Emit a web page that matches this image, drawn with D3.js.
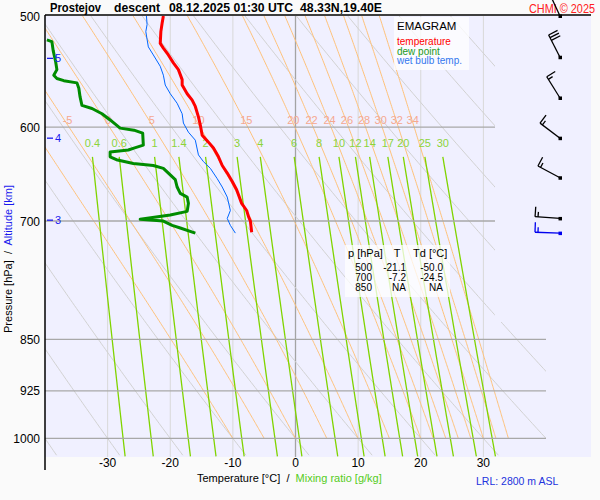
<!DOCTYPE html>
<html>
<head>
<meta charset="utf-8">
<script src="https://cdn.jsdelivr.net/npm/d3@7"></script>
<style>
  body { margin: 0; background: #fafafa; }
  svg { display: block; font-family: "Liberation Sans", Arial, sans-serif; }
</style>
</head>
<body>
<svg id="chart" width="600" height="500"></svg>
<script>
// sounding data: pressure [hPa] and temperature [°C]
var tempP = [500, 506, 513, 523, 527, 533, 540, 546, 555, 560, 568, 574, 580, 590, 598, 608, 615, 621, 630, 639, 647, 656, 665, 680, 688, 695, 700, 713];
var tempT = [-21.1, -21.3, -21.5, -21.6, -21.1, -20.3, -19.5, -18.7, -18.1, -18.1, -17.3, -16.5, -16.0, -15.5, -15.2, -14.9, -13.9, -13.1, -12.3, -11.7, -10.9, -10.1, -9.4, -8.6, -7.8, -7.5, -7.2, -7.0];

var dewP = [520, 521.5, 529, 539, 546, 551, 554, 556, 558, 563, 571, 579, 582, 587, 593, 601, 603, 606, 618, 621, 623, 625, 630, 633, 637, 639, 642, 649, 654, 662, 669, 673, 680, 689, 693, 698, 700, 705, 708, 714];
var dewT = [-39.7, -38.9, -38.7, -38.3, -38.1, -38.6, -38.1, -37.0, -34.9, -34.6, -34.4, -34.1, -32.5, -30.9, -29.6, -28.0, -25.8, -24.4, -24.3, -25.8, -26.7, -29.6, -29.6, -28.6, -25.9, -22.7, -21.1, -20.0, -19.2, -18.9, -18.4, -17.3, -17.1, -17.3, -20.0, -24.8, -21.1, -19.7, -18.4, -16.0];

var wetP = [500, 507, 513, 526, 533, 543, 551, 560, 568, 577, 587, 596, 605, 613, 628, 635, 642, 653, 662, 673, 688, 697, 705, 714];
var wetT = [-23.8, -23.7, -23.9, -23.5, -22.7, -21.6, -21.1, -20.8, -20.0, -18.9, -18.1, -17.9, -17.1, -16.0, -15.5, -14.7, -13.6, -12.5, -11.7, -10.9, -10.4, -10.9, -10.4, -9.6];

// wind barbs
var windP = [500, 535, 572, 611, 652, 697, 714];
var windDir = [335, 333, 328, 307, 298, 274, 272];
var windSpeed = [30, 30, 15, 15, 15, 15, 15];
var windColor = ["#000", "#000", "#000", "#000", "#000", "#000", "#0000ee"];

// altitude marks
var altKm = [5, 4, 3];
var altP = [536, 611, 699];

// diagram grid
var isobars = [600, 700, 850, 925, 1000];
var pressureTicks = [500, 600, 700, 850, 925, 1000];
var isotherms = [-30, -20, -10, 0, 10, 20, 30];
var dryAdiabats = [-50, -40, -30, -20, -10, 0, 10, 20, 30, 40, 50, 60, 70, 80, 90, 100, 110, 120];
var moistAdiabats = [-10, -5, 0, 5, 10, 15, 20, 22, 24, 26, 28, 30, 32, 34];
var mixingRatios = [0.4, 0.6, 1, 1.4, 2, 3, 4, 6, 8, 10, 12, 14, 17, 20, 25, 30];

// summary table
var tableP = ["500", "700", "850"];
var tableT = ["-21.1", "-7.2", "NA"];
var tableTd = ["-50.0", "-24.5", "NA"];

var svg = d3.select("#chart");
var x = d3.scaleLinear().domain([-40, 40]).range([45, 546]);
var y = d3.scaleLog().domain([500, 1031]).range([16, 457]);

var line = d3.line()
  .x(function (d) { return x(d.t); })
  .y(function (d) { return y(d.p); });

/*
  NAME: satVap
  DESCRIPTION: saturation vapour pressure over water [hPa] (Magnus)
*/
function satVap(tc) {
  return 6.112 * Math.exp((17.67 * tc) / (tc + 243.5));
} // end function satVap

/*
  NAME: moistCurve
  DESCRIPTION: pseudo-adiabat from 1000 hPa at given wet-bulb potential temperature
*/
function moistCurve(thw) {
  var pts = [];
  var p = 1000;
  var tk = thw + 273.15;
  var dp = -2;
  function dTdp(pp, t) {
    var es = satVap(t - 273.15);
    var rs = (0.622 * es) / (pp - es);
    return ((287.04 * t + 2.501e6 * rs) /
      (1005.7 + (2.501e6 * 2.501e6 * rs * 0.622) / (287.04 * t * t))) / pp;
  }
  pts.push({ p: p, t: tk - 273.15 });
  while (p > 500) {
    var k1 = dTdp(p, tk);
    var k2 = dTdp(p + dp / 2, tk + (k1 * dp) / 2);
    var k3 = dTdp(p + dp / 2, tk + (k2 * dp) / 2);
    var k4 = dTdp(p + dp, tk + k3 * dp);
    tk += (dp / 6) * (k1 + 2 * k2 + 2 * k3 + k4);
    p += dp;
    pts.push({ p: p, t: tk - 273.15 });
  }
  return pts;
} // end function moistCurve

function mixingTemp(w, p) {
  var e = (w * p) / (622 + w);
  var a = Math.log(e / 6.112);
  return (a * 243.5) / (17.67 - a);
}

function zipSeries(ps, ts) {
  return ps.map(function (d, i) { return { p: d, t: ts[i] }; });
}

// backgrounds
svg.append("rect").attr("x", 0).attr("y", 0).attr("width", 600).attr("height", 500).attr("fill", "#fafafa");
svg.append("rect").attr("x", 45).attr("y", 16).attr("width", 546).attr("height", 441).attr("fill", "#f0f0ff");

svg.append("clipPath").attr("id", "plotClip")
  .append("rect").attr("x", 45).attr("y", 16).attr("width", 501).attr("height", 441);

var grid = svg.append("g").attr("clip-path", "url(#plotClip)");

// isotherms
grid.selectAll(".isotherm")
  .data(isotherms)
  .enter()
  .append("line")
  .attr("x1", function (d) { return x(d); })
  .attr("x2", function (d) { return x(d); })
  .attr("y1", y(500))
  .attr("y2", y(1031))
  .attr("stroke", function (d) { return d == 0 ? "#a4a4a4" : "#d8d8d8"; })
  .attr("stroke-width", function (d) { return d == 0 ? 1.3 : 1; });

// dry adiabats
var pSteps = d3.range(500, 1032, 4);
grid.selectAll(".dry")
  .data(dryAdiabats)
  .enter()
  .append("path")
  .attr("fill", "none")
  .attr("stroke", "#d2d2d2")
  .attr("stroke-width", 1)
  .attr("d", function (th) {
    return line(pSteps.map(function (p) {
      return { p: p, t: (th + 273.15) * Math.pow(p / 1000, 0.2857) - 273.15 };
    }));
  });

// moist adiabats
var moistData = moistAdiabats.map(function (d) { return { thw: d, pts: moistCurve(d) }; });
grid.selectAll(".moist")
  .data(moistData)
  .enter()
  .append("path")
  .attr("fill", "none")
  .attr("stroke", "#ffc27a")
  .attr("stroke-width", 1)
  .attr("d", function (d) { return line(d.pts); });

// mixing ratio lines
var mixSteps = d3.range(630, 1032, 4);
grid.selectAll(".mix")
  .data(mixingRatios)
  .enter()
  .append("path")
  .attr("fill", "none")
  .attr("stroke", "#80d400")
  .attr("stroke-width", 1.3)
  .attr("d", function (w) {
    return line(mixSteps.map(function (p) { return { p: p, t: mixingTemp(w, p) }; }));
  });

// isobars
grid.selectAll(".isobar")
  .data(isobars)
  .enter()
  .append("line")
  .attr("x1", x(-40))
  .attr("x2", x(40))
  .attr("y1", function (d) { return y(d); })
  .attr("y2", function (d) { return y(d); })
  .attr("stroke", "#a8a8a8")
  .attr("stroke-width", 1.4);

// wind panel covers the upper right of the grid
svg.append("rect").attr("x", 495).attr("y", 16).attr("width", 96).attr("height", 306).attr("fill", "#f0f0ff");

// moist adiabat labels at 600 hPa
svg.selectAll(".moistLabel")
  .data(moistData.filter(function (d) { return d.thw > -10; }))
  .enter()
  .append("text")
  .attr("x", function (d) {
    var pt = d.pts.reduce(function (a, b) { return Math.abs(b.p - 600) < Math.abs(a.p - 600) ? b : a; });
    return x(pt.t) - 1.5;
  })
  .attr("y", y(600) - 3)
  .attr("text-anchor", "middle")
  .attr("font-size", 11)
  .attr("fill", "#f5a890")
  .text(function (d) { return d.thw; });

// mixing ratio labels
svg.selectAll(".mixLabel")
  .data(mixingRatios)
  .enter()
  .append("text")
  .attr("x", function (d) { return x(mixingTemp(d, 630)); })
  .attr("y", 147)
  .attr("text-anchor", "middle")
  .attr("font-size", 11)
  .attr("fill", "#8cd43a")
  .text(function (d) { return d; });

// sounding curves
var curves = svg.append("g").attr("clip-path", "url(#plotClip)");
curves.append("path")
  .attr("d", line(zipSeries(wetP, wetT)))
  .attr("fill", "none").attr("stroke", "#0066ff").attr("stroke-width", 1);
curves.append("path")
  .attr("d", line(zipSeries(dewP, dewT)))
  .attr("fill", "none").attr("stroke", "#008c00").attr("stroke-width", 3)
  .attr("stroke-linejoin", "round");
curves.append("path")
  .attr("d", line(zipSeries(tempP, tempT)))
  .attr("fill", "none").attr("stroke", "#ff0000").attr("stroke-width", 3)
  .attr("stroke-linejoin", "round");

// legend box
var legend = svg.append("g");
legend.append("rect").attr("x", 394).attr("y", 17).attr("width", 75).attr("height", 53)
  .attr("fill", "#ffffff").attr("fill-opacity", 0.75);
legend.append("text").attr("x", 397).attr("y", 30).attr("font-size", 11.5).attr("fill", "#000").text("EMAGRAM");
var legendItems = [["temperature", "#ff0000"], ["dew point", "#229922"], ["wet bulb temp.", "#3377ee"]];
legend.selectAll(".item")
  .data(legendItems)
  .enter()
  .append("text")
  .attr("x", 397)
  .attr("y", function (d, i) { return 45 + i * 9.7; })
  .attr("font-size", 10)
  .attr("fill", function (d) { return d[1]; })
  .text(function (d) { return d[0]; });

// value table
var table = svg.append("g");
table.append("rect").attr("x", 345).attr("y", 245).attr("width", 105).attr("height", 52)
  .attr("fill", "#ffffff").attr("fill-opacity", 0.75);
table.append("text").attr("x", 348).attr("y", 257).attr("font-size", 11).text("p [hPa]");
table.append("text").attr("x", 397).attr("y", 257).attr("font-size", 11).attr("text-anchor", "middle").text("T");
table.append("text").attr("x", 413).attr("y", 257).attr("font-size", 11).text("Td [°C]");
[tableP, tableT, tableTd].forEach(function (col, c) {
  var right = [372, 406, 443][c];
  table.selectAll(".col" + c)
    .data(col)
    .enter()
    .append("text")
    .attr("x", right)
    .attr("y", function (d, i) { return 271 + i * 10; })
    .attr("text-anchor", "end")
    .attr("font-size", 10)
    .text(function (d) { return d; });
});

// axes
svg.append("line").attr("x1", 45).attr("x2", 45).attr("y1", 15).attr("y2", 470).attr("stroke", "#000").attr("stroke-width", 1.5);
svg.append("line").attr("x1", 45).attr("x2", 591).attr("y1", 15).attr("y2", 15).attr("stroke", "#000").attr("stroke-width", 1.5);

svg.selectAll(".ptick")
  .data(pressureTicks)
  .enter()
  .append("text")
  .attr("x", 40)
  .attr("y", function (d) { return y(d) + 4.5; })
  .attr("text-anchor", "end")
  .attr("font-size", 12)
  .text(function (d) { return d; });

svg.selectAll(".ttick")
  .data(isotherms)
  .enter()
  .append("text")
  .attr("x", function (d) { return x(d); })
  .attr("y", 467)
  .attr("text-anchor", "middle")
  .attr("font-size", 12)
  .text(function (d) { return d; });

// altitude marks
svg.selectAll(".altDash")
  .data(altP)
  .enter()
  .append("line")
  .attr("x1", 47).attr("x2", 53)
  .attr("y1", function (d) { return y(d); })
  .attr("y2", function (d) { return y(d); })
  .attr("stroke", "#1a1aee").attr("stroke-width", 1.3);
svg.selectAll(".altLabel")
  .data(altP)
  .enter()
  .append("text")
  .attr("x", 55)
  .attr("y", function (d) { return y(d) + 4; })
  .attr("font-size", 11)
  .attr("fill", "#1a1aee")
  .text(function (d, i) { return altKm[i]; });

// axis titles
var yTitle = svg.append("text")
  .attr("transform", "translate(12,259) rotate(-90)")
  .attr("text-anchor", "middle")
  .attr("font-size", 11)
  .attr("xml:space", "preserve");
yTitle.append("tspan").attr("fill", "#000").text("Pressure [hPa]  /  ");
yTitle.append("tspan").attr("fill", "#1a1aee").text("Altitude [km]");

var xTitle = svg.append("text")
  .attr("x", 197)
  .attr("y", 482)
  .attr("font-size", 11)
  .attr("xml:space", "preserve");
xTitle.append("tspan").attr("fill", "#000").text("Temperature [°C]  /  ");
xTitle.append("tspan").attr("fill", "#55cc22").text("Mixing ratio [g/kg]");

svg.append("text").attr("x", 476).attr("y", 485).attr("font-size", 10.5).attr("fill", "#2233dd").text("LRL: 2800 m ASL");

// title, widths
var titleParts = [["Prostejov", 50, 51], ["descent", 114, 46], ["08.12.2025 01:30 UTC", 169, 124], ["48.33N,19.40E", 300, 82]];
svg.selectAll(".title")
  .data(titleParts)
  .enter()
  .append("text")
  .attr("x", function (d) { return d[1]; })
  .attr("y", 12)
  .attr("font-size", 13)
  .attr("font-weight", "bold")
  .attr("textLength", function (d) { return d[2]; })
  .attr("lengthAdjust", "spacingAndGlyphs")
  .text(function (d) { return d[0]; });
svg.append("text").attr("x", 529).attr("y", 13).attr("font-size", 12).attr("fill", "#ff2020")
  .attr("textLength", 66).attr("lengthAdjust", "spacingAndGlyphs").text("CHMI © 2025");

/*
  NAME: drawBarb
  DESCRIPTION: draws one wind barb with its base at the station point
*/
function drawBarb(by, dir, speed, color) {
  var bx = 560;
  var len = 25;
  var rad = (dir * Math.PI) / 180;
  var ux = Math.sin(rad), uy = -Math.cos(rad);
  var fx = -uy, fy = ux;
  var g = svg.append("g").attr("stroke", color).attr("stroke-width", 1.3).attr("fill", "none");
  var tx = bx + ux * len, ty = by + uy * len;
  g.append("line").attr("x1", bx).attr("y1", by).attr("x2", tx).attr("y2", ty);
  var full = Math.floor(speed / 10);
  var half = (speed % 10) >= 5 ? 1 : 0;
  for (var i = 0; i < full + half; i++) {
    var fl = i < full ? 10 : 5;
    var sx = tx - ux * i * 3, sy = ty - uy * i * 3;
    g.append("line").attr("x1", sx).attr("y1", sy).attr("x2", sx + fx * fl).attr("y2", sy + fy * fl);
  }
  svg.append("rect").attr("x", bx - 1.5).attr("y", by - 1.5).attr("width", 3.5).attr("height", 3.5).attr("fill", color);
} // end function drawBarb

windP.forEach(function (p, i) {
  drawBarb(y(p), windDir[i], windSpeed[i], windColor[i]);
});
</script>
</body>
</html>
